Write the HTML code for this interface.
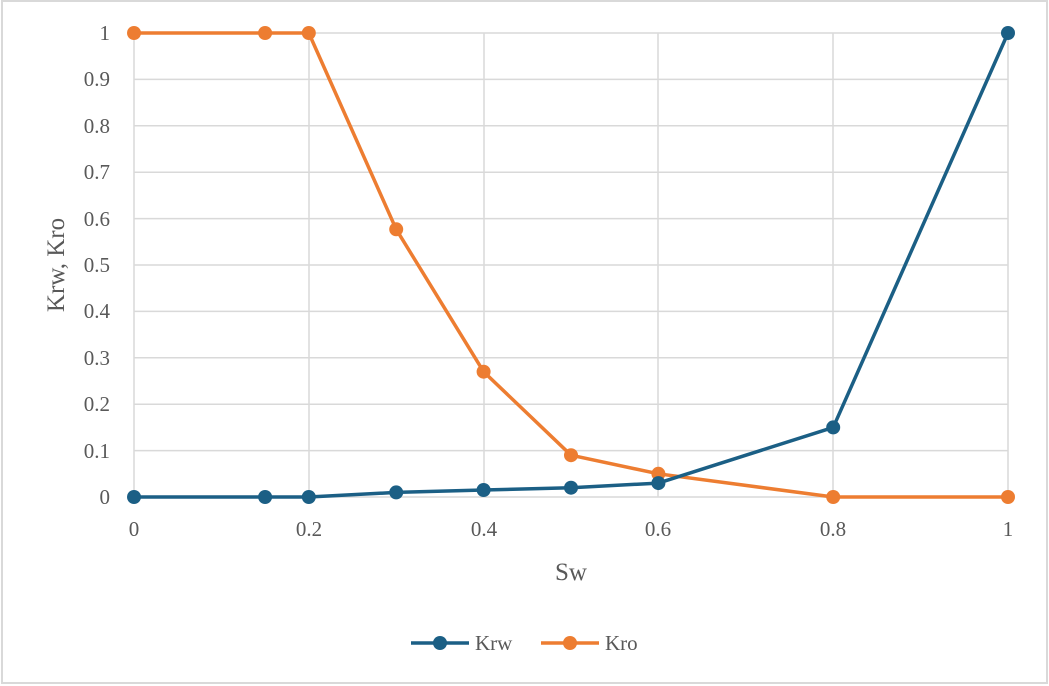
<!DOCTYPE html>
<html><head><style>
html,body{margin:0;padding:0;background:#fff;}
svg{display:block;}
text{font-family:"Liberation Serif",serif;fill:#595959;}
</style></head><body>
<svg width="1049" height="686" xmlns="http://www.w3.org/2000/svg">
<rect x="2" y="1" width="1045" height="682" fill="#fff" stroke="#d9d9d9" stroke-width="2"/>
<g stroke="#d9d9d9" stroke-width="1.5">
<line x1="134" y1="33" x2="1008" y2="33"/><line x1="134" y1="79.4" x2="1008" y2="79.4"/>
<line x1="134" y1="125.8" x2="1008" y2="125.8"/><line x1="134" y1="172.2" x2="1008" y2="172.2"/>
<line x1="134" y1="218.6" x2="1008" y2="218.6"/><line x1="134" y1="265" x2="1008" y2="265"/>
<line x1="134" y1="311.4" x2="1008" y2="311.4"/><line x1="134" y1="357.8" x2="1008" y2="357.8"/>
<line x1="134" y1="404.2" x2="1008" y2="404.2"/><line x1="134" y1="450.6" x2="1008" y2="450.6"/>
<line x1="134" y1="497" x2="1008" y2="497"/>
<line x1="134" y1="33" x2="134" y2="497"/><line x1="309" y1="33" x2="309" y2="497"/>
<line x1="484" y1="33" x2="484" y2="497"/><line x1="658" y1="33" x2="658" y2="497"/>
<line x1="833" y1="33" x2="833" y2="497"/><line x1="1008" y1="33" x2="1008" y2="497"/>
</g>
<g font-size="21" text-anchor="end">
<text x="110" y="40">1</text><text x="110" y="86">0.9</text><text x="110" y="133">0.8</text>
<text x="110" y="179">0.7</text><text x="110" y="226">0.6</text><text x="110" y="272">0.5</text>
<text x="110" y="318">0.4</text><text x="110" y="365">0.3</text><text x="110" y="411">0.2</text>
<text x="110" y="458">0.1</text><text x="110" y="504">0</text>
</g>
<g font-size="21" text-anchor="middle">
<text x="134" y="536">0</text><text x="309" y="536">0.2</text><text x="484" y="536">0.4</text>
<text x="658" y="536">0.6</text><text x="833" y="536">0.8</text><text x="1008" y="536">1</text>
<text x="571" y="580" font-size="25">Sw</text>
<text transform="translate(64,265) rotate(-90)" font-size="25">Krw, Kro</text>
</g>
<polyline fill="none" stroke="#ed7d31" stroke-width="3.5" stroke-linejoin="round" points="134,33 265.1,33 308.8,33 396.2,229.3 483.6,371.7 571,455.2 658.4,473.8 833.2,497 1008,497"/>
<g fill="#ed7d31">
<circle cx="134" cy="33" r="7"/><circle cx="265.1" cy="33" r="7"/><circle cx="308.8" cy="33" r="7"/>
<circle cx="396.2" cy="229.3" r="7"/><circle cx="483.6" cy="371.7" r="7"/><circle cx="571" cy="455.2" r="7"/>
<circle cx="658.4" cy="473.8" r="7"/><circle cx="833.2" cy="497" r="7"/><circle cx="1008" cy="497" r="7"/>
</g>
<polyline fill="none" stroke="#1b5f85" stroke-width="3.5" stroke-linejoin="round" points="134,497 265.1,497 308.8,497 396.2,492.4 483.6,490 571,487.7 658.4,483.1 833.2,427.4 1008,33"/>
<g fill="#1b5f85">
<circle cx="134" cy="497" r="7"/><circle cx="265.1" cy="497" r="7"/><circle cx="308.8" cy="497" r="7"/>
<circle cx="396.2" cy="492.4" r="7"/><circle cx="483.6" cy="490" r="7"/><circle cx="571" cy="487.7" r="7"/>
<circle cx="658.4" cy="483.1" r="7"/><circle cx="833.2" cy="427.4" r="7"/><circle cx="1008" cy="33" r="7"/>
</g>
<line x1="411" y1="643" x2="469" y2="643" stroke="#1b5f85" stroke-width="3.5"/>
<circle cx="440" cy="643" r="7" fill="#1b5f85"/>
<text x="475" y="650" font-size="21">Krw</text>
<line x1="541" y1="643" x2="599" y2="643" stroke="#ed7d31" stroke-width="3.5"/>
<circle cx="570" cy="643" r="7" fill="#ed7d31"/>
<text x="605" y="650" font-size="21">Kro</text>
</svg>
</body></html>
